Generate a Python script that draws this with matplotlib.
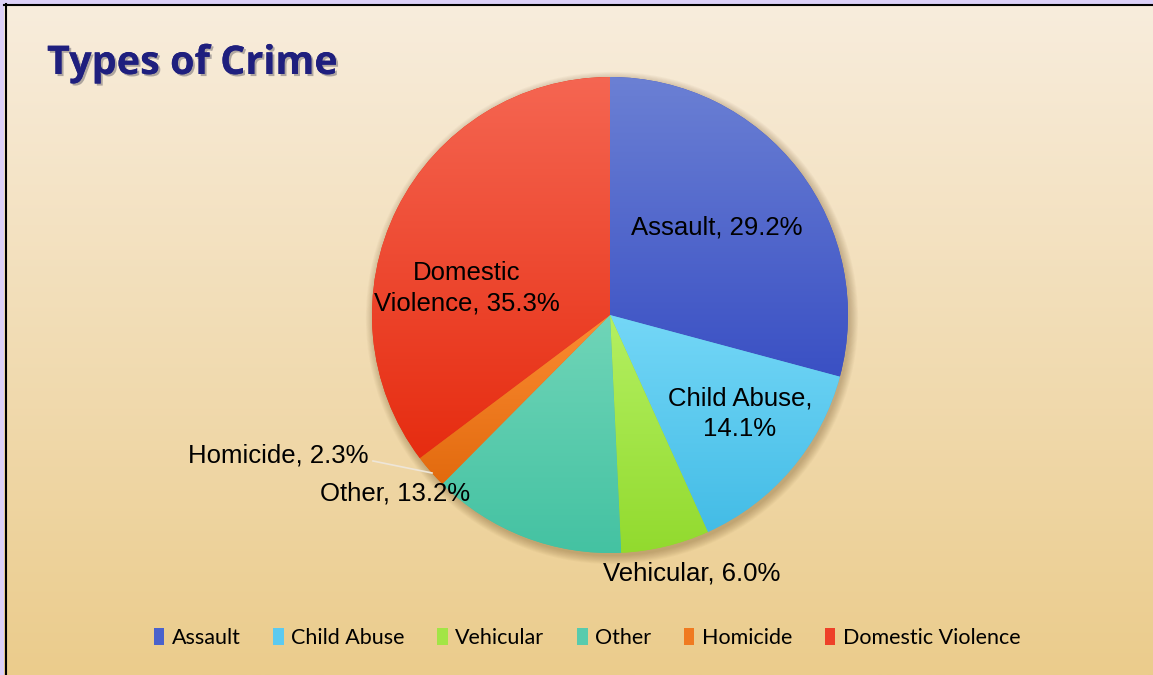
import numpy as np
import matplotlib.pyplot as plt
import matplotlib.patheffects as pe
from matplotlib.patches import Patch, Circle, Rectangle
from matplotlib.colors import to_rgb

categories = ['Assault', 'Child Abuse', 'Vehicular', 'Other', 'Homicide', 'Domestic Violence']
shares = [29.2, 14.1, 6.0, 13.2, 2.3, 35.3]
slice_labels = ['Assault, 29.2%', 'Child Abuse,\n14.1%', 'Vehicular, 6.0%',
                'Other, 13.2%', 'Homicide, 2.3%', 'Domestic\nViolence, 35.3%']
light = ['#6b80d4', '#74d7f7', '#b4f062', '#70d5b8', '#fc8c32', '#f56652']
dark = ['#3a50c4', '#43bce6', '#92da2e', '#44c2a2', '#e26a0e', '#e62c10']
legend_cols = ['#4a62cc', '#5ccaf0', '#a2e546', '#58cbad', '#f07a20', '#ee4028']

W, H = 1153, 675
fig = plt.figure(figsize=(W / 100, H / 100), dpi=100)
ax = fig.add_axes([0, 0, 1, 1])


def vgrad(c_top, c_bot, n=256):
    t = np.linspace(0, 1, n)[:, None, None]
    a, b = np.array(to_rgb(c_top)), np.array(to_rgb(c_bot))
    return a + (b - a) * t


# background
ax.imshow(vgrad('#f8eddd', '#ebcc8c'), extent=(0, W, 0, H), aspect='auto', zorder=0)

# pie
cx, cy, R = 610, H - 315, 238
for i in range(10):
    ax.add_patch(Circle((cx + 2, cy - 3), R + 0.9 * i, color='#5a3a10', alpha=0.03, lw=0, zorder=1))

wedges, _ = ax.pie(shares, startangle=90, counterclock=False, center=(cx, cy), radius=R,
                   colors=dark, wedgeprops=dict(linewidth=0))
for w, c1, c2 in zip(wedges, light, dark):
    w.set_zorder(2)
    ext = w.get_path().get_extents()
    im = ax.imshow(vgrad(c1, c2), extent=(ext.x0, ext.x1, ext.y0, ext.y1), aspect='auto', zorder=3)
    im.set_clip_path(w)

# slice labels (pixel positions from the top-left corner)
label_pos = [(717, 228), (740, 414), (692, 574), (395, 494), (278, 455), (467, 288)]
for txt, (px, py) in zip(slice_labels, label_pos):
    ax.text(px, H - py, txt, ha='center', va='center', fontsize=18.5,
            family='Liberation Sans', color='black', linespacing=1.35, zorder=5)
ax.plot([373, 432], [H - 461, H - 473], color='#eee6d8', lw=1.2, zorder=4)

ax.set_xlim(0, W)
ax.set_ylim(0, H)
ax.axis('off')

# frame
ax.add_patch(Rectangle((0, 0), 4, H, color='#dcd0f8', lw=0, zorder=6))
ax.add_patch(Rectangle((0, H - 4), W, 4, color='#dcd0f8', lw=0, zorder=6))
ax.plot([5.5, 5.5], [0, H - 4], color='black', lw=1.5, zorder=7)
ax.plot([4, W], [H - 5, H - 5], color='black', lw=1.5, zorder=7)

fig.text(47 / W, 1 - 74 / H, 'Types of Crime', fontsize=28.5, fontweight='bold', family='Open Sans',
         color='#1f1f7e', va='baseline',
         path_effects=[pe.withSimplePatchShadow(offset=(1.5, -1.5), alpha=0.3), pe.Normal()])

handles = [Patch(facecolor=c) for c in legend_cols]
fig.legend(handles, categories, loc='center', bbox_to_anchor=(587 / W, 1 - 638 / H), ncol=6,
           frameon=False, prop={'family': 'Lato', 'size': 15.5}, handlelength=0.5,
           handleheight=0.85, handletextpad=0.35, columnspacing=1.5)

fig.savefig('out.png', dpi=100)
